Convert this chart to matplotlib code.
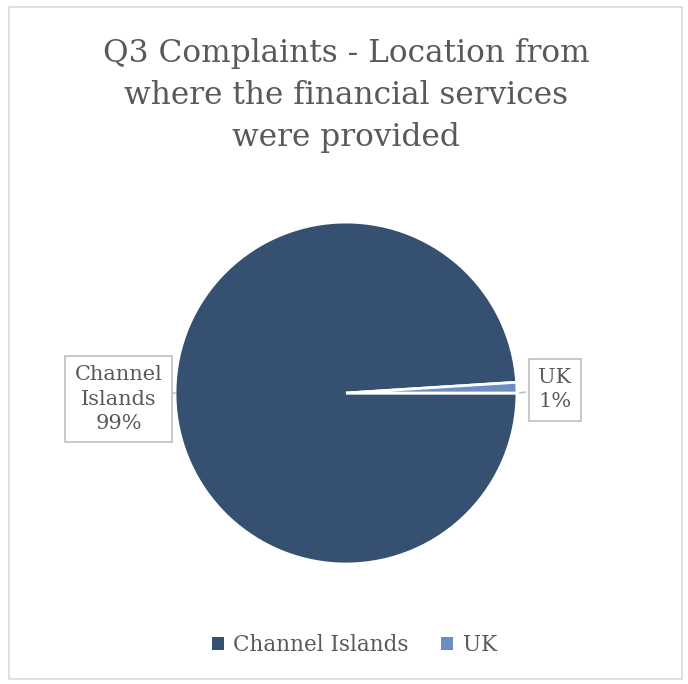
import matplotlib.pyplot as plt
from matplotlib.patches import Rectangle, Patch

# Q3 complaints split by where the service was provided
locations = ["Channel Islands", "UK"]
shares = [99, 1]
colors = ["#355070", "#6A8EC2"]

plt.rcParams['font.family'] = ['DejaVu Serif']
text_grey = "#595959"

fig = plt.figure(figsize=(6.88, 6.84), dpi=100)

# chart frame
fig.patches.append(Rectangle((0.013, 0.008), 0.979, 0.982, transform=fig.transFigure,
                             fill=False, edgecolor="#d9d9d9", linewidth=1.2))

fig.text(0.503, 0.86, "Q3 Complaints - Location from\nwhere the financial services\nwere provided",
         ha="center", va="center", fontsize=22.5, color=text_grey, linespacing=1.45)

ax = fig.add_axes([0.2544, 0.1754, 0.497, 0.5])
wedges, _ = ax.pie(shares, colors=colors, startangle=360 * shares[1] / 100,
                   counterclock=True,
                   wedgeprops=dict(edgecolor="white", linewidth=2))
ax.set_xlim(-1, 1)
ax.set_ylim(-1, 1)
ax.set_aspect("equal")

# data labels in callout boxes
box = dict(boxstyle="square,pad=0.45", facecolor="white", edgecolor="#bfbfbf", linewidth=1.2)
ax.annotate(f"{locations[0].replace(' ', chr(10))}\n{shares[0]}%", xy=(-1.0, 0.0),
            xytext=(-1.33, -0.035), ha="center", va="center", fontsize=15, color=text_grey,
            linespacing=1.35, bbox=box, annotation_clip=False,
            arrowprops=dict(arrowstyle="-", color="#bfbfbf", lw=1.2))
ax.annotate(f"{locations[1]}\n{shares[1]}%", xy=(1.0, 0.0),
            xytext=(1.22, 0.02), ha="center", va="center", fontsize=15, color=text_grey,
            linespacing=1.35, bbox=box, annotation_clip=False,
            arrowprops=dict(arrowstyle="-", color="#bfbfbf", lw=1.2))

handles = [Patch(facecolor=c) for c in colors]
fig.legend(handles, locations, loc="center", bbox_to_anchor=(0.515, 0.057), ncol=2,
           frameon=False, fontsize=15.5, handlelength=0.55, handleheight=0.55,
           handletextpad=0.45, columnspacing=1.5, labelcolor=text_grey)

plt.savefig("out.png", dpi=100)
